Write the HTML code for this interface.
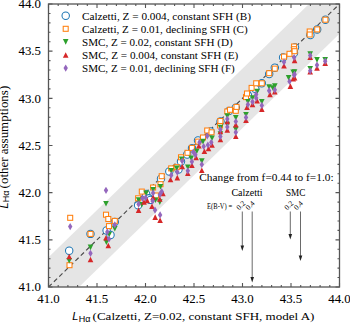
<!DOCTYPE html><html><head><meta charset="utf-8"><style>html,body{margin:0;padding:0;background:#fff;overflow:hidden}svg{display:block}text{font-family:"Liberation Serif",serif;fill:#000}</style></head><body>
<svg width="350" height="325" viewBox="0 0 350 325">
<rect width="350" height="325" fill="#fff"/>
<defs><clipPath id="ax"><rect x="48.5" y="4.0" width="291.0" height="283.0"/></clipPath></defs>
<g clip-path="url(#ax)">
<polygon fill="#e5e5e5" points="-48.50,351.62 405.95,-90.33 436.50,-60.62 -17.95,381.33"/>
<line x1="48.50" y1="287.00" x2="339.50" y2="4.00" stroke="#4a4a4a" stroke-width="1.15" stroke-dasharray="4.5,3"/>
<circle cx="69.2" cy="250.7" r="3.7" fill="#fff" stroke="#1f77b4" stroke-width="1.05"/>
<circle cx="90.5" cy="233.9" r="3.7" fill="#fff" stroke="#1f77b4" stroke-width="1.05"/>
<circle cx="106.6" cy="230.5" r="3.7" fill="#fff" stroke="#1f77b4" stroke-width="1.05"/>
<circle cx="110.5" cy="235" r="3.7" fill="#fff" stroke="#1f77b4" stroke-width="1.05"/>
<circle cx="114.8" cy="222" r="3.7" fill="#fff" stroke="#1f77b4" stroke-width="1.05"/>
<circle cx="138.1" cy="205.3" r="3.7" fill="#fff" stroke="#1f77b4" stroke-width="1.05"/>
<circle cx="146.1" cy="194" r="3.7" fill="#fff" stroke="#1f77b4" stroke-width="1.05"/>
<circle cx="148.8" cy="198.3" r="3.7" fill="#fff" stroke="#1f77b4" stroke-width="1.05"/>
<circle cx="150.4" cy="199.9" r="3.7" fill="#fff" stroke="#1f77b4" stroke-width="1.05"/>
<circle cx="161" cy="178.7" r="3.7" fill="#fff" stroke="#1f77b4" stroke-width="1.05"/>
<circle cx="169.3" cy="171.5" r="3.7" fill="#fff" stroke="#1f77b4" stroke-width="1.05"/>
<circle cx="178.5" cy="169.6" r="3.7" fill="#fff" stroke="#1f77b4" stroke-width="1.05"/>
<circle cx="181" cy="161.6" r="3.7" fill="#fff" stroke="#1f77b4" stroke-width="1.05"/>
<circle cx="187.2" cy="154.5" r="3.7" fill="#fff" stroke="#1f77b4" stroke-width="1.05"/>
<circle cx="192" cy="148.3" r="3.7" fill="#fff" stroke="#1f77b4" stroke-width="1.05"/>
<circle cx="198" cy="140.5" r="3.7" fill="#fff" stroke="#1f77b4" stroke-width="1.05"/>
<circle cx="210.5" cy="131.5" r="3.7" fill="#fff" stroke="#1f77b4" stroke-width="1.05"/>
<circle cx="220.5" cy="121.5" r="3.7" fill="#fff" stroke="#1f77b4" stroke-width="1.05"/>
<circle cx="229" cy="111" r="3.7" fill="#fff" stroke="#1f77b4" stroke-width="1.05"/>
<circle cx="235.8" cy="107.7" r="3.7" fill="#fff" stroke="#1f77b4" stroke-width="1.05"/>
<circle cx="247.9" cy="95.3" r="3.7" fill="#fff" stroke="#1f77b4" stroke-width="1.05"/>
<circle cx="255.3" cy="88.8" r="3.7" fill="#fff" stroke="#1f77b4" stroke-width="1.05"/>
<circle cx="261.8" cy="83.3" r="3.7" fill="#fff" stroke="#1f77b4" stroke-width="1.05"/>
<circle cx="269.2" cy="74.1" r="3.7" fill="#fff" stroke="#1f77b4" stroke-width="1.05"/>
<circle cx="274.8" cy="67.7" r="3.7" fill="#fff" stroke="#1f77b4" stroke-width="1.05"/>
<circle cx="283.1" cy="57.5" r="3.7" fill="#fff" stroke="#1f77b4" stroke-width="1.05"/>
<circle cx="294" cy="53" r="3.7" fill="#fff" stroke="#1f77b4" stroke-width="1.05"/>
<circle cx="295" cy="47.4" r="3.7" fill="#fff" stroke="#1f77b4" stroke-width="1.05"/>
<circle cx="310.4" cy="35" r="3.7" fill="#fff" stroke="#1f77b4" stroke-width="1.05"/>
<circle cx="317.2" cy="29.4" r="3.7" fill="#fff" stroke="#1f77b4" stroke-width="1.05"/>
<circle cx="325.4" cy="19.7" r="3.7" fill="#fff" stroke="#1f77b4" stroke-width="1.05"/>
<rect x="67.00" y="262.70" width="5" height="5" fill="#fff" stroke="#ff7f0e" stroke-width="1.05"/>
<rect x="67.70" y="215.30" width="5" height="5" fill="#fff" stroke="#ff7f0e" stroke-width="1.05"/>
<rect x="88.00" y="231.40" width="5" height="5" fill="#fff" stroke="#ff7f0e" stroke-width="1.05"/>
<rect x="103.50" y="212.20" width="5" height="5" fill="#fff" stroke="#ff7f0e" stroke-width="1.05"/>
<rect x="105.80" y="216.50" width="5" height="5" fill="#fff" stroke="#ff7f0e" stroke-width="1.05"/>
<rect x="106.50" y="223.60" width="5" height="5" fill="#fff" stroke="#ff7f0e" stroke-width="1.05"/>
<rect x="112.30" y="218.40" width="5" height="5" fill="#fff" stroke="#ff7f0e" stroke-width="1.05"/>
<rect x="135.60" y="195.80" width="5" height="5" fill="#fff" stroke="#ff7f0e" stroke-width="1.05"/>
<rect x="139.30" y="189.10" width="5" height="5" fill="#fff" stroke="#ff7f0e" stroke-width="1.05"/>
<rect x="150.60" y="185.00" width="5" height="5" fill="#fff" stroke="#ff7f0e" stroke-width="1.05"/>
<rect x="153.50" y="193.00" width="5" height="5" fill="#fff" stroke="#ff7f0e" stroke-width="1.05"/>
<rect x="158.00" y="181.70" width="5" height="5" fill="#fff" stroke="#ff7f0e" stroke-width="1.05"/>
<rect x="159.20" y="173.70" width="5" height="5" fill="#fff" stroke="#ff7f0e" stroke-width="1.05"/>
<rect x="168.70" y="165.90" width="5" height="5" fill="#fff" stroke="#ff7f0e" stroke-width="1.05"/>
<rect x="174.20" y="164.70" width="5" height="5" fill="#fff" stroke="#ff7f0e" stroke-width="1.05"/>
<rect x="178.50" y="154.80" width="5" height="5" fill="#fff" stroke="#ff7f0e" stroke-width="1.05"/>
<rect x="185.00" y="150.30" width="5" height="5" fill="#fff" stroke="#ff7f0e" stroke-width="1.05"/>
<rect x="189.40" y="145.40" width="5" height="5" fill="#fff" stroke="#ff7f0e" stroke-width="1.05"/>
<rect x="195.70" y="139.10" width="5" height="5" fill="#fff" stroke="#ff7f0e" stroke-width="1.05"/>
<rect x="200.50" y="135.00" width="5" height="5" fill="#fff" stroke="#ff7f0e" stroke-width="1.05"/>
<rect x="204.70" y="128.00" width="5" height="5" fill="#fff" stroke="#ff7f0e" stroke-width="1.05"/>
<rect x="209.00" y="129.80" width="5" height="5" fill="#fff" stroke="#ff7f0e" stroke-width="1.05"/>
<rect x="217.50" y="123.00" width="5" height="5" fill="#fff" stroke="#ff7f0e" stroke-width="1.05"/>
<rect x="217.90" y="118.50" width="5" height="5" fill="#fff" stroke="#ff7f0e" stroke-width="1.05"/>
<rect x="224.80" y="109.00" width="5" height="5" fill="#fff" stroke="#ff7f0e" stroke-width="1.05"/>
<rect x="227.50" y="107.30" width="5" height="5" fill="#fff" stroke="#ff7f0e" stroke-width="1.05"/>
<rect x="233.30" y="108.30" width="5" height="5" fill="#fff" stroke="#ff7f0e" stroke-width="1.05"/>
<rect x="234.00" y="104.40" width="5" height="5" fill="#fff" stroke="#ff7f0e" stroke-width="1.05"/>
<rect x="243.50" y="94.60" width="5" height="5" fill="#fff" stroke="#ff7f0e" stroke-width="1.05"/>
<rect x="244.50" y="91.00" width="5" height="5" fill="#fff" stroke="#ff7f0e" stroke-width="1.05"/>
<rect x="249.10" y="85.40" width="5" height="5" fill="#fff" stroke="#ff7f0e" stroke-width="1.05"/>
<rect x="253.70" y="80.80" width="5" height="5" fill="#fff" stroke="#ff7f0e" stroke-width="1.05"/>
<rect x="259.30" y="80.80" width="5" height="5" fill="#fff" stroke="#ff7f0e" stroke-width="1.05"/>
<rect x="266.70" y="70.70" width="5" height="5" fill="#fff" stroke="#ff7f0e" stroke-width="1.05"/>
<rect x="272.30" y="66.10" width="5" height="5" fill="#fff" stroke="#ff7f0e" stroke-width="1.05"/>
<rect x="281.50" y="54.10" width="5" height="5" fill="#fff" stroke="#ff7f0e" stroke-width="1.05"/>
<rect x="287.00" y="51.30" width="5" height="5" fill="#fff" stroke="#ff7f0e" stroke-width="1.05"/>
<rect x="291.60" y="44.00" width="5" height="5" fill="#fff" stroke="#ff7f0e" stroke-width="1.05"/>
<rect x="291.60" y="46.70" width="5" height="5" fill="#fff" stroke="#ff7f0e" stroke-width="1.05"/>
<rect x="292.10" y="48.70" width="5" height="5" fill="#fff" stroke="#ff7f0e" stroke-width="1.05"/>
<rect x="307.20" y="29.00" width="5" height="5" fill="#fff" stroke="#ff7f0e" stroke-width="1.05"/>
<rect x="307.20" y="32.00" width="5" height="5" fill="#fff" stroke="#ff7f0e" stroke-width="1.05"/>
<rect x="314.70" y="26.90" width="5" height="5" fill="#fff" stroke="#ff7f0e" stroke-width="1.05"/>
<rect x="322.90" y="17.20" width="5" height="5" fill="#fff" stroke="#ff7f0e" stroke-width="1.05"/>
<path d="M66.40,258.00H72.00L69.2,263.60Z" fill="#2ca02c"/>
<path d="M87.70,244.60H93.30L90.5,250.20Z" fill="#2ca02c"/>
<path d="M103.20,201.00H108.80L106,206.60Z" fill="#2ca02c"/>
<path d="M103.60,239.50H109.20L106.4,245.10Z" fill="#2ca02c"/>
<path d="M106.40,231.70H112.00L109.2,237.30Z" fill="#2ca02c"/>
<path d="M112.00,225.90H117.60L114.8,231.50Z" fill="#2ca02c"/>
<path d="M135.80,197.20H141.40L138.6,202.80Z" fill="#2ca02c"/>
<path d="M139.00,201.90H144.60L141.8,207.50Z" fill="#2ca02c"/>
<path d="M143.30,190.60H148.90L146.1,196.20Z" fill="#2ca02c"/>
<path d="M150.30,186.90H155.90L153.1,192.50Z" fill="#2ca02c"/>
<path d="M152.70,197.40H158.30L155.5,203.00Z" fill="#2ca02c"/>
<path d="M157.00,199.30H162.60L159.8,204.90Z" fill="#2ca02c"/>
<path d="M157.70,183.90H163.30L160.5,189.50Z" fill="#2ca02c"/>
<path d="M168.40,168.00H174.00L171.2,173.60Z" fill="#2ca02c"/>
<path d="M173.90,165.60H179.50L176.7,171.20Z" fill="#2ca02c"/>
<path d="M178.80,156.40H184.40L181.6,162.00Z" fill="#2ca02c"/>
<path d="M185.00,164.40H190.60L187.8,170.00Z" fill="#2ca02c"/>
<path d="M188.40,155.40H194.00L191.2,161.00Z" fill="#2ca02c"/>
<path d="M194.00,148.50H199.60L196.8,154.10Z" fill="#2ca02c"/>
<path d="M199.00,158.30H204.60L201.8,163.90Z" fill="#2ca02c"/>
<path d="M200.20,138.80H205.80L203,144.40Z" fill="#2ca02c"/>
<path d="M209.20,135.40H214.80L212,141.00Z" fill="#2ca02c"/>
<path d="M217.60,124.70H223.20L220.4,130.30Z" fill="#2ca02c"/>
<path d="M217.60,131.20H223.20L220.4,136.80Z" fill="#2ca02c"/>
<path d="M224.50,113.20H230.10L227.3,118.80Z" fill="#2ca02c"/>
<path d="M224.50,121.70H230.10L227.3,127.30Z" fill="#2ca02c"/>
<path d="M233.00,114.90H238.60L235.8,120.50Z" fill="#2ca02c"/>
<path d="M233.00,126.40H238.60L235.8,132.00Z" fill="#2ca02c"/>
<path d="M243.20,111.90H248.80L246,117.50Z" fill="#2ca02c"/>
<path d="M245.10,99.00H250.70L247.9,104.60Z" fill="#2ca02c"/>
<path d="M249.70,95.20H255.30L252.5,100.80Z" fill="#2ca02c"/>
<path d="M254.30,88.80H259.90L257.1,94.40Z" fill="#2ca02c"/>
<path d="M259.00,99.00H264.60L261.8,104.60Z" fill="#2ca02c"/>
<path d="M266.30,84.20H271.90L269.1,89.80Z" fill="#2ca02c"/>
<path d="M270.00,85.20H275.60L272.8,90.80Z" fill="#2ca02c"/>
<path d="M272.00,83.30H277.60L274.8,88.90Z" fill="#2ca02c"/>
<path d="M285.80,75.00H291.40L288.6,80.60Z" fill="#2ca02c"/>
<path d="M290.40,69.50H296.00L293.2,75.10Z" fill="#2ca02c"/>
<path d="M291.80,69.20H297.40L294.6,74.80Z" fill="#2ca02c"/>
<path d="M307.40,51.30H313.00L310.2,56.90Z" fill="#2ca02c"/>
<path d="M307.40,66.00H313.00L310.2,71.60Z" fill="#2ca02c"/>
<path d="M314.20,57.10H319.80L317,62.70Z" fill="#2ca02c"/>
<path d="M322.40,57.10H328.00L325.2,62.70Z" fill="#2ca02c"/>
<path d="M66.40,259.30H72.00L69.2,253.70Z" fill="#d62728"/>
<path d="M87.70,262.30H93.30L90.5,256.70Z" fill="#d62728"/>
<path d="M103.20,240.60H108.80L106,235.00Z" fill="#d62728"/>
<path d="M105.50,248.30H111.10L108.3,242.70Z" fill="#d62728"/>
<path d="M135.80,212.90H141.40L138.6,207.30Z" fill="#d62728"/>
<path d="M141.20,204.80H146.80L144,199.20Z" fill="#d62728"/>
<path d="M144.40,203.20H150.00L147.2,197.60Z" fill="#d62728"/>
<path d="M149.20,209.10H154.80L152,203.50Z" fill="#d62728"/>
<path d="M150.30,200.00H155.90L153.1,194.40Z" fill="#d62728"/>
<path d="M152.40,219.90H158.00L155.2,214.30Z" fill="#d62728"/>
<path d="M157.00,201.80H162.60L159.8,196.20Z" fill="#d62728"/>
<path d="M157.30,223.10H162.90L160.1,217.50Z" fill="#d62728"/>
<path d="M160.10,196.30H165.70L162.9,190.70Z" fill="#d62728"/>
<path d="M167.70,182.30H173.30L170.5,176.70Z" fill="#d62728"/>
<path d="M174.50,180.40H180.10L177.3,174.80Z" fill="#d62728"/>
<path d="M179.40,169.30H185.00L182.2,163.70Z" fill="#d62728"/>
<path d="M185.00,176.10H190.60L187.8,170.50Z" fill="#d62728"/>
<path d="M189.10,168.00H194.70L191.9,162.40Z" fill="#d62728"/>
<path d="M193.30,160.30H198.90L196.1,154.70Z" fill="#d62728"/>
<path d="M196.10,148.60H201.70L198.9,143.00Z" fill="#d62728"/>
<path d="M199.00,173.10H204.60L201.8,167.50Z" fill="#d62728"/>
<path d="M201.60,154.10H207.20L204.4,148.50Z" fill="#d62728"/>
<path d="M205.70,151.30H211.30L208.5,145.70Z" fill="#d62728"/>
<path d="M209.20,147.80H214.80L212,142.20Z" fill="#d62728"/>
<path d="M217.60,134.30H223.20L220.4,128.70Z" fill="#d62728"/>
<path d="M217.60,142.30H223.20L220.4,136.70Z" fill="#d62728"/>
<path d="M224.50,124.30H230.10L227.3,118.70Z" fill="#d62728"/>
<path d="M224.50,132.80H230.10L227.3,127.20Z" fill="#d62728"/>
<path d="M233.00,127.40H238.60L235.8,121.80Z" fill="#d62728"/>
<path d="M233.00,139.00H238.60L235.8,133.40Z" fill="#d62728"/>
<path d="M243.20,123.00H248.80L246,117.40Z" fill="#d62728"/>
<path d="M244.20,110.10H249.80L247,104.50Z" fill="#d62728"/>
<path d="M249.70,107.30H255.30L252.5,101.70Z" fill="#d62728"/>
<path d="M254.30,103.60H259.90L257.1,98.00Z" fill="#d62728"/>
<path d="M259.00,111.90H264.60L261.8,106.30Z" fill="#d62728"/>
<path d="M267.20,97.20H272.80L270,91.60Z" fill="#d62728"/>
<path d="M272.00,94.50H277.60L274.8,88.90Z" fill="#d62728"/>
<path d="M281.20,68.60H286.80L284,63.00Z" fill="#d62728"/>
<path d="M287.60,88.90H293.20L290.4,83.30Z" fill="#d62728"/>
<path d="M290.40,81.50H296.00L293.2,75.90Z" fill="#d62728"/>
<path d="M291.80,63.20H297.40L294.6,57.60Z" fill="#d62728"/>
<path d="M291.80,80.50H297.40L294.6,74.90Z" fill="#d62728"/>
<path d="M307.40,60.00H313.00L310.2,54.40Z" fill="#d62728"/>
<path d="M307.40,74.50H313.00L310.2,68.90Z" fill="#d62728"/>
<path d="M314.20,70.70H319.80L317,65.10Z" fill="#d62728"/>
<path d="M322.40,65.90H328.00L325.2,60.30Z" fill="#d62728"/>
<path d="M70.2,223.00L72.40,226.6L70.2,230.20L68.00,226.6Z" fill="#9467bd"/>
<path d="M90.5,249.70L92.70,253.3L90.5,256.90L88.30,253.3Z" fill="#9467bd"/>
<path d="M106,186.70L108.20,190.3L106,193.90L103.80,190.3Z" fill="#9467bd"/>
<path d="M107.3,228.30L109.50,231.9L107.3,235.50L105.10,231.9Z" fill="#9467bd"/>
<path d="M109,235.40L111.20,239L109,242.60L106.80,239Z" fill="#9467bd"/>
<path d="M114.8,221.20L117.00,224.8L114.8,228.40L112.60,224.8Z" fill="#9467bd"/>
<path d="M138.6,200.60L140.80,204.2L138.6,207.80L136.40,204.2Z" fill="#9467bd"/>
<path d="M142.4,194.70L144.60,198.3L142.4,201.90L140.20,198.3Z" fill="#9467bd"/>
<path d="M145.6,194.10L147.80,197.7L145.6,201.30L143.40,197.7Z" fill="#9467bd"/>
<path d="M152.6,197.40L154.80,201L152.6,204.60L150.40,201Z" fill="#9467bd"/>
<path d="M153.1,189.30L155.30,192.9L153.1,196.50L150.90,192.9Z" fill="#9467bd"/>
<path d="M155,206.50L157.20,210.1L155,213.70L152.80,210.1Z" fill="#9467bd"/>
<path d="M159.8,191.10L162.00,194.7L159.8,198.30L157.60,194.7Z" fill="#9467bd"/>
<path d="M160.1,211.30L162.30,214.9L160.1,218.50L157.90,214.9Z" fill="#9467bd"/>
<path d="M161.7,188.00L163.90,191.6L161.7,195.20L159.50,191.6Z" fill="#9467bd"/>
<path d="M171.2,171.60L173.40,175.2L171.2,178.80L169.00,175.2Z" fill="#9467bd"/>
<path d="M177.3,168.50L179.50,172.1L177.3,175.70L175.10,172.1Z" fill="#9467bd"/>
<path d="M182.2,157.40L184.40,161L182.2,164.60L180.00,161Z" fill="#9467bd"/>
<path d="M187.8,167.20L190.00,170.8L187.8,174.40L185.60,170.8Z" fill="#9467bd"/>
<path d="M191.9,158.10L194.10,161.7L191.9,165.30L189.70,161.7Z" fill="#9467bd"/>
<path d="M193.3,148.40L195.50,152L193.3,155.60L191.10,152Z" fill="#9467bd"/>
<path d="M195.4,151.20L197.60,154.8L195.4,158.40L193.20,154.8Z" fill="#9467bd"/>
<path d="M199.5,138.70L201.70,142.3L199.5,145.90L197.30,142.3Z" fill="#9467bd"/>
<path d="M201.8,160.90L204.00,164.5L201.8,168.10L199.60,164.5Z" fill="#9467bd"/>
<path d="M203.7,142.90L205.90,146.5L203.7,150.10L201.50,146.5Z" fill="#9467bd"/>
<path d="M207.2,132.40L209.40,136L207.2,139.60L205.00,136Z" fill="#9467bd"/>
<path d="M207.9,141.40L210.10,145L207.9,148.60L205.70,145Z" fill="#9467bd"/>
<path d="M211.3,138.70L213.50,142.3L211.3,145.90L209.10,142.3Z" fill="#9467bd"/>
<path d="M220.4,125.90L222.60,129.5L220.4,133.10L218.20,129.5Z" fill="#9467bd"/>
<path d="M220.4,132.90L222.60,136.5L220.4,140.10L218.20,136.5Z" fill="#9467bd"/>
<path d="M227.3,115.40L229.50,119L227.3,122.60L225.10,119Z" fill="#9467bd"/>
<path d="M227.3,123.40L229.50,127L227.3,130.60L225.10,127Z" fill="#9467bd"/>
<path d="M235.8,117.90L238.00,121.5L235.8,125.10L233.60,121.5Z" fill="#9467bd"/>
<path d="M235.8,128.70L238.00,132.3L235.8,135.90L233.60,132.3Z" fill="#9467bd"/>
<path d="M246,113.80L248.20,117.4L246,121.00L243.80,117.4Z" fill="#9467bd"/>
<path d="M247.9,100.90L250.10,104.5L247.9,108.10L245.70,104.5Z" fill="#9467bd"/>
<path d="M252.5,98.20L254.70,101.8L252.5,105.40L250.30,101.8Z" fill="#9467bd"/>
<path d="M256.2,90.80L258.40,94.4L256.2,98.00L254.00,94.4Z" fill="#9467bd"/>
<path d="M256.2,94.40L258.40,98L256.2,101.60L254.00,98Z" fill="#9467bd"/>
<path d="M261.8,101.80L264.00,105.4L261.8,109.00L259.60,105.4Z" fill="#9467bd"/>
<path d="M269.1,87.10L271.30,90.7L269.1,94.30L266.90,90.7Z" fill="#9467bd"/>
<path d="M274.8,86.20L277.00,89.8L274.8,93.40L272.60,89.8Z" fill="#9467bd"/>
<path d="M284,58.50L286.20,62.1L284,65.70L281.80,62.1Z" fill="#9467bd"/>
<path d="M289.5,77.90L291.70,81.5L289.5,85.10L287.30,81.5Z" fill="#9467bd"/>
<path d="M294.1,53.90L296.30,57.5L294.1,61.10L291.90,57.5Z" fill="#9467bd"/>
<path d="M294.1,71.40L296.30,75L294.1,78.60L291.90,75Z" fill="#9467bd"/>
<path d="M294.6,70.70L296.80,74.3L294.6,77.90L292.40,74.3Z" fill="#9467bd"/>
<path d="M310.2,51.90L312.40,55.5L310.2,59.10L308.00,55.5Z" fill="#9467bd"/>
<path d="M310.2,67.20L312.40,70.8L310.2,74.40L308.00,70.8Z" fill="#9467bd"/>
<path d="M317,61.50L319.20,65.1L317,68.70L314.80,65.1Z" fill="#9467bd"/>
<path d="M325.2,57.60L327.40,61.2L325.2,64.80L323.00,61.2Z" fill="#9467bd"/>
</g>
<rect x="48.5" y="4.0" width="291.0" height="283.0" fill="none" stroke="#555" stroke-width="1.3"/>
<path d="M48.50,287.0v-4M48.50,4.0v4M48.5,287.00h4M339.5,287.00h-4M58.20,287.0v-2M58.20,4.0v2M48.5,277.57h2M339.5,277.57h-2M67.90,287.0v-2M67.90,4.0v2M48.5,268.13h2M339.5,268.13h-2M77.60,287.0v-2M77.60,4.0v2M48.5,258.70h2M339.5,258.70h-2M87.30,287.0v-2M87.30,4.0v2M48.5,249.27h2M339.5,249.27h-2M97.00,287.0v-4M97.00,4.0v4M48.5,239.83h4M339.5,239.83h-4M106.70,287.0v-2M106.70,4.0v2M48.5,230.40h2M339.5,230.40h-2M116.40,287.0v-2M116.40,4.0v2M48.5,220.97h2M339.5,220.97h-2M126.10,287.0v-2M126.10,4.0v2M48.5,211.53h2M339.5,211.53h-2M135.80,287.0v-2M135.80,4.0v2M48.5,202.10h2M339.5,202.10h-2M145.50,287.0v-4M145.50,4.0v4M48.5,192.67h4M339.5,192.67h-4M155.20,287.0v-2M155.20,4.0v2M48.5,183.23h2M339.5,183.23h-2M164.90,287.0v-2M164.90,4.0v2M48.5,173.80h2M339.5,173.80h-2M174.60,287.0v-2M174.60,4.0v2M48.5,164.37h2M339.5,164.37h-2M184.30,287.0v-2M184.30,4.0v2M48.5,154.93h2M339.5,154.93h-2M194.00,287.0v-4M194.00,4.0v4M48.5,145.50h4M339.5,145.50h-4M203.70,287.0v-2M203.70,4.0v2M48.5,136.07h2M339.5,136.07h-2M213.40,287.0v-2M213.40,4.0v2M48.5,126.63h2M339.5,126.63h-2M223.10,287.0v-2M223.10,4.0v2M48.5,117.20h2M339.5,117.20h-2M232.80,287.0v-2M232.80,4.0v2M48.5,107.77h2M339.5,107.77h-2M242.50,287.0v-4M242.50,4.0v4M48.5,98.33h4M339.5,98.33h-4M252.20,287.0v-2M252.20,4.0v2M48.5,88.90h2M339.5,88.90h-2M261.90,287.0v-2M261.90,4.0v2M48.5,79.47h2M339.5,79.47h-2M271.60,287.0v-2M271.60,4.0v2M48.5,70.03h2M339.5,70.03h-2M281.30,287.0v-2M281.30,4.0v2M48.5,60.60h2M339.5,60.60h-2M291.00,287.0v-4M291.00,4.0v4M48.5,51.17h4M339.5,51.17h-4M300.70,287.0v-2M300.70,4.0v2M48.5,41.73h2M339.5,41.73h-2M310.40,287.0v-2M310.40,4.0v2M48.5,32.30h2M339.5,32.30h-2M320.10,287.0v-2M320.10,4.0v2M48.5,22.87h2M339.5,22.87h-2M329.80,287.0v-2M329.80,4.0v2M48.5,13.43h2M339.5,13.43h-2M339.50,287.0v-4M339.50,4.0v4M48.5,4.00h4M339.5,4.00h-4" stroke="#555" stroke-width="1.1" fill="none"/>
<text x="48.50" y="303.2" font-size="13.2" text-anchor="middle" textLength="22.5" lengthAdjust="spacingAndGlyphs" stroke="#000" stroke-width="0.05">41.0</text>
<text x="41" y="291.20" font-size="13.2" text-anchor="end" textLength="22.5" lengthAdjust="spacingAndGlyphs" stroke="#000" stroke-width="0.05">41.0</text>
<text x="97.00" y="303.2" font-size="13.2" text-anchor="middle" textLength="22.5" lengthAdjust="spacingAndGlyphs" stroke="#000" stroke-width="0.05">41.5</text>
<text x="41" y="244.03" font-size="13.2" text-anchor="end" textLength="22.5" lengthAdjust="spacingAndGlyphs" stroke="#000" stroke-width="0.05">41.5</text>
<text x="145.50" y="303.2" font-size="13.2" text-anchor="middle" textLength="22.5" lengthAdjust="spacingAndGlyphs" stroke="#000" stroke-width="0.05">42.0</text>
<text x="41" y="196.87" font-size="13.2" text-anchor="end" textLength="22.5" lengthAdjust="spacingAndGlyphs" stroke="#000" stroke-width="0.05">42.0</text>
<text x="194.00" y="303.2" font-size="13.2" text-anchor="middle" textLength="22.5" lengthAdjust="spacingAndGlyphs" stroke="#000" stroke-width="0.05">42.5</text>
<text x="41" y="149.70" font-size="13.2" text-anchor="end" textLength="22.5" lengthAdjust="spacingAndGlyphs" stroke="#000" stroke-width="0.05">42.5</text>
<text x="242.50" y="303.2" font-size="13.2" text-anchor="middle" textLength="22.5" lengthAdjust="spacingAndGlyphs" stroke="#000" stroke-width="0.05">43.0</text>
<text x="41" y="102.53" font-size="13.2" text-anchor="end" textLength="22.5" lengthAdjust="spacingAndGlyphs" stroke="#000" stroke-width="0.05">43.0</text>
<text x="291.00" y="303.2" font-size="13.2" text-anchor="middle" textLength="22.5" lengthAdjust="spacingAndGlyphs" stroke="#000" stroke-width="0.05">43.5</text>
<text x="41" y="55.37" font-size="13.2" text-anchor="end" textLength="22.5" lengthAdjust="spacingAndGlyphs" stroke="#000" stroke-width="0.05">43.5</text>
<text x="339.50" y="303.2" font-size="13.2" text-anchor="middle" textLength="22.5" lengthAdjust="spacingAndGlyphs" stroke="#000" stroke-width="0.05">44.0</text>
<text x="41" y="8.20" font-size="13.2" text-anchor="end" textLength="22.5" lengthAdjust="spacingAndGlyphs" stroke="#000" stroke-width="0.05">44.0</text>
<text x="82" y="19.70" font-size="10.8" text-anchor="start" textLength="169.0" lengthAdjust="spacingAndGlyphs" >Calzetti, Z = 0.004, constant SFH (B)</text>
<text x="82" y="32.80" font-size="10.8" text-anchor="start" textLength="165.7" lengthAdjust="spacingAndGlyphs" >Calzetti, Z = 0.01, declining SFH (C)</text>
<text x="82" y="45.90" font-size="10.8" text-anchor="start" textLength="150.7" lengthAdjust="spacingAndGlyphs" >SMC, Z = 0.02, constant SFH (D)</text>
<text x="82" y="59.00" font-size="10.8" text-anchor="start" textLength="156.3" lengthAdjust="spacingAndGlyphs" >SMC, Z = 0.004, constant SFH (E)</text>
<text x="82" y="72.10" font-size="10.8" text-anchor="start" textLength="152.8" lengthAdjust="spacingAndGlyphs" >SMC, Z = 0.01, declining SFH (F)</text>
<text x="72.3" y="320.2" font-size="11" style="font-family:'Liberation Sans',sans-serif;font-style:italic" stroke="#000" stroke-width="0.05">L</text>
<text x="78.8" y="321.6" font-size="9" style="font-family:'Liberation Sans',sans-serif">Hα</text>
<text x="92.6" y="320.1" font-size="11.2" text-anchor="start" textLength="221.8" lengthAdjust="spacingAndGlyphs" >(Calzetti, Z=0.02, constant SFH, model A)</text>
<g transform="translate(0,0) rotate(-90)">
<text x="-208.5" y="7.7" font-size="11" style="font-family:'Liberation Sans',sans-serif;font-style:italic" stroke="#000" stroke-width="0.05">L</text>
<text x="-202.2" y="9.0" font-size="9" style="font-family:'Liberation Sans',sans-serif">Hα</text>
<text x="-188.4" y="7.8" font-size="11.6" text-anchor="start" textLength="102.6" lengthAdjust="spacingAndGlyphs" >(other assumptions)</text>
</g>
<text x="199.3" y="181.3" font-size="11" text-anchor="start" textLength="134.3" lengthAdjust="spacingAndGlyphs" >Change from f=0.44 to f=1.0:</text>
<text x="231.4" y="195.8" font-size="10" text-anchor="start" textLength="31.1" lengthAdjust="spacingAndGlyphs" >Calzetti</text>
<text x="286" y="195.8" font-size="10" text-anchor="start" textLength="19.4" lengthAdjust="spacingAndGlyphs" >SMC</text>
<text x="207.1" y="208.8" font-size="7.2" text-anchor="start" textLength="25" lengthAdjust="spacingAndGlyphs" >E(B-V) =</text>
<text x="0" y="0" font-size="7.5" transform="translate(239.2,210.5) rotate(-45)">0.2</text>
<text x="0" y="0" font-size="7.5" transform="translate(248.6,210.5) rotate(-45)">0.4</text>
<text x="0" y="0" font-size="7.5" transform="translate(287.2,210.5) rotate(-45)">0.2</text>
<text x="0" y="0" font-size="7.5" transform="translate(296.8,210.5) rotate(-45)">0.4</text>
<line x1="242.3" y1="211.5" x2="242.3" y2="247" stroke="#444" stroke-width="0.8"/>
<path d="M240.5,245.5L244.10000000000002,245.5L242.3,251Z" fill="#222"/>
<line x1="252.2" y1="211.5" x2="252.2" y2="278.5" stroke="#444" stroke-width="0.8"/>
<path d="M250.39999999999998,277.0L254.0,277.0L252.2,282.5Z" fill="#222"/>
<line x1="290.3" y1="211.5" x2="290.3" y2="235.6" stroke="#444" stroke-width="0.8"/>
<path d="M288.5,234.1L292.1,234.1L290.3,239.6Z" fill="#222"/>
<line x1="300.5" y1="211.5" x2="300.5" y2="257" stroke="#444" stroke-width="0.8"/>
<path d="M298.7,255.5L302.3,255.5L300.5,261Z" fill="#222"/>
<circle cx="65.7" cy="15.7" r="3.7" fill="#fff" stroke="#1f77b4" stroke-width="1.05"/>
<rect x="63.20" y="26.30" width="5" height="5" fill="#fff" stroke="#ff7f0e" stroke-width="1.05"/>
<path d="M62.90,39.10H68.50L65.7,44.70Z" fill="#2ca02c"/>
<path d="M62.90,57.80H68.50L65.7,52.20Z" fill="#d62728"/>
<path d="M65.7,64.50L67.90,68.1L65.7,71.70L63.50,68.1Z" fill="#9467bd"/>
</svg></body></html>
